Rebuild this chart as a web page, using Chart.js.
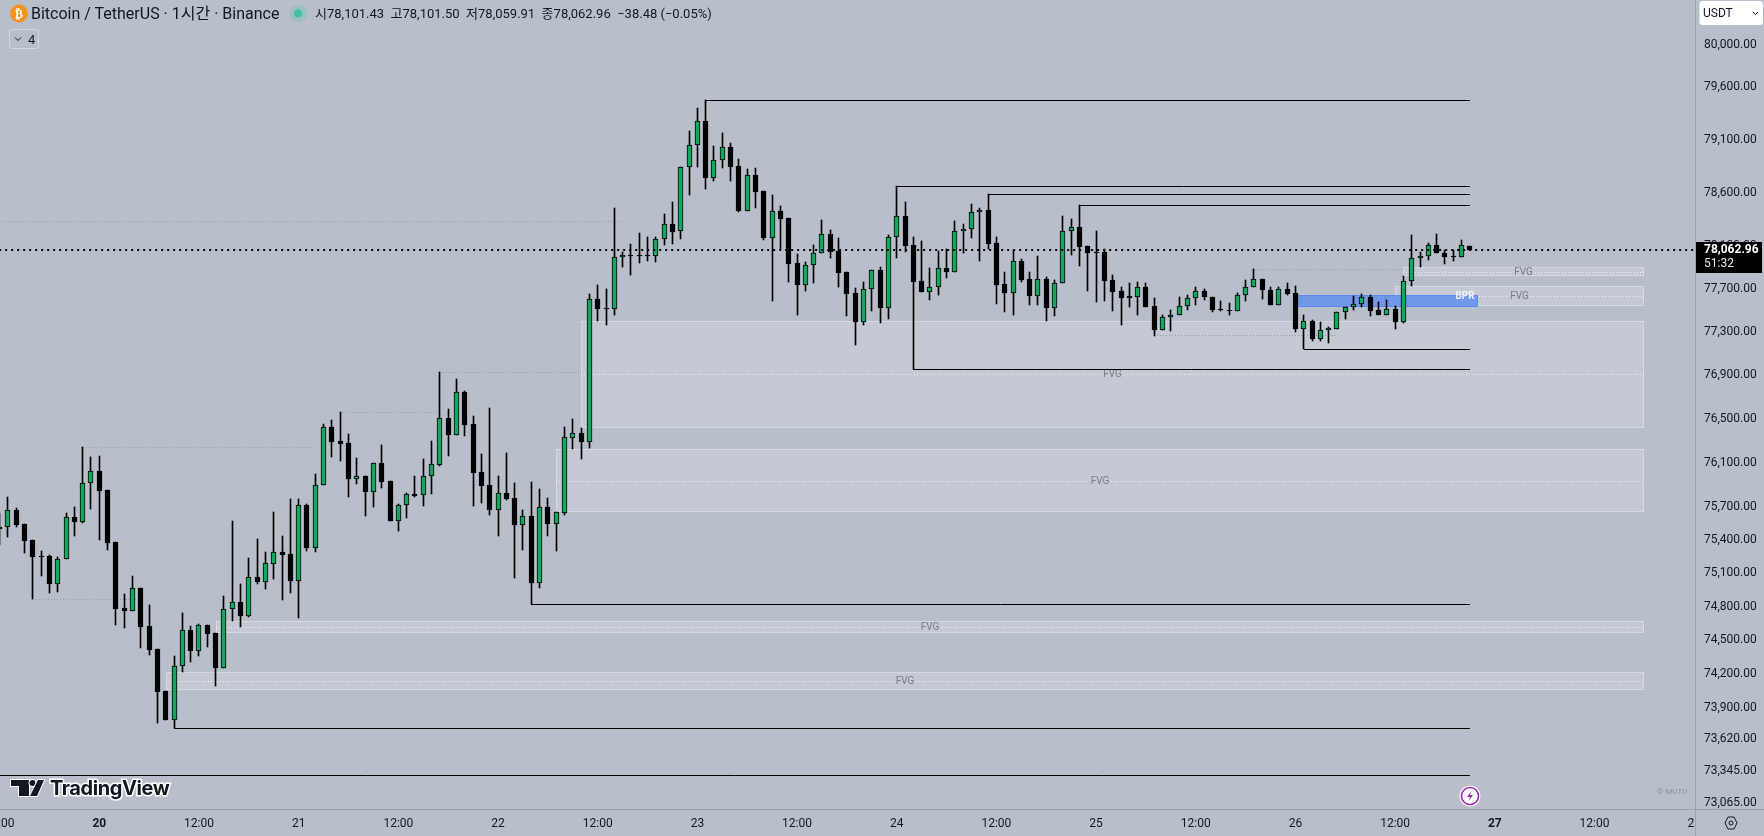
<!DOCTYPE html>
<html lang="ko"><head><meta charset="utf-8">
<style>
html,body{margin:0;padding:0;background:#b8bfca;width:1764px;height:836px;overflow:hidden}
#c{position:absolute;left:0;top:0}
.t{position:absolute;white-space:nowrap;color:#131722;font-family:Roboto,"Noto Sans CJK KR",sans-serif}
svg{position:absolute;overflow:visible}
</style></head><body>
<canvas id="c" width="1764" height="836"></canvas>
<svg style="left:0;top:0" width="1764" height="836">
<circle cx="19" cy="13.5" r="9" fill="#f7931a"/><text x="19" y="18" text-anchor="middle" font-family="Roboto" font-weight="700" font-size="12" fill="#fff">₿</text>
<circle cx="298" cy="13.5" r="9" fill="#9dbfbf"/><circle cx="298" cy="13.5" r="4" fill="#3fc0a6"/>
<rect x="9.5" y="29.5" width="29" height="19" rx="2.5" fill="none" stroke="#d3d7dd"/>
<path d="M15 37.5l3 3 3-3" fill="none" stroke="#131722"/>
<path d="M11 780h18v16h-10v-10h-8z" fill="#131722" stroke="#fff" stroke-width="2" paint-order="stroke"/>
<circle cx="32.5" cy="783" r="3" fill="#131722" stroke="#fff" stroke-width="2" paint-order="stroke"/>
<path d="M38 780h6l-7 16h-7z" fill="#131722" stroke="#fff" stroke-width="2" paint-order="stroke"/>
<text x="50" y="795" font-family="Inter" font-weight="700" font-size="20" letter-spacing="-.4" fill="#131722" stroke="#fff" stroke-width="3" paint-order="stroke">TradingView</text>
<circle cx="1470" cy="796" r="10.5" fill="#fff"/><circle cx="1470" cy="796" r="8.5" fill="none" stroke="#9c27b0" stroke-width="1.6"/>
<path d="M1471.5 791l-4.5 6h3l-1.5 4 4.5-6h-3z" fill="#9c27b0"/>
<path d="M1725 823l3-6h6l3 6-3 6h-6z" fill="none" stroke="#131722"/><circle cx="1731" cy="823" r="2" fill="none" stroke="#131722"/>
<rect x="1699.5" y="1" width="63.5" height="24" rx="3" fill="#fff"/>
<path d="M1753 12l2.5 2.5 2.5-2.5" fill="none" stroke="#131722"/>
</svg>
<div class="t" style="left:31px;top:4px;font-size:16px;line-height:19px">Bitcoin / TetherUS · 1시간 · Binance</div>
<div class="t" style="left:315px;top:5px;font-size:13px;line-height:17px">시78,101.43&nbsp; 고78,101.50&nbsp; 저78,059.91&nbsp; 종78,062.96&nbsp; −38.48 (−0.05%)</div>
<div class="t" style="left:28px;top:32px;font-size:13px;line-height:15px">4</div>
<div class="t" style="left:1703px;top:5px;font-size:12px;line-height:16px">USDT</div>
<div class="t" style="left:1657px;top:787px;font-size:8px;line-height:10px;color:#8b909a">© MUTU</div>
<script src="https://cdn.jsdelivr.net/npm/chart.js@4/dist/chart.umd.min.js"></script>
<script>
const firstHour=-12;
const opens=[75496,75514,75667,75541,75397,75255,75255,75006,75226,75604,75564,75918,
76022,75851,75379,74785,74764,74964,74624,74419,74045,73794,74273,74589,
74407,74633,74562,74255,74781,74838,74719,75064,75024,75186,75289,75271,
75033,75712,75330,75894,76423,76295,76277,75954,75976,75836,76095,75931,
75573,75712,75811,75802,75976,76082,76505,76356,76743,76450,76013,75894,
75673,75827,75775,75537,75613,75015,75694,75546,75646,76328,76368,76292,
77602,77518,77515,77994,78013,78013,78013,78003,78162,78302,78237,78838,
79046,79273,78740,78905,79028,78848,78429,78763,78611,78177,78423,78358,
77938,77738,77919,78031,78209,78050,77854,77658,77395,77700,77872,77524,
78181,78377,78106,77770,77673,77719,77891,77859,78237,78255,78414,78433,
78125,77742,77663,77956,77788,77635,77788,77524,77751,78237,78274,78097,
78043,78040,77779,77676,77628,77625,77714,77537,77321,77435,77454,77537,
77611,77676,77620,77512,77503,77496,77639,77714,77788,77686,77552,77695,
77658,77330,77398,77238,77315,77330,77481,77528,77555,77620,77500,77459,
77509,77395,77770,77985,78003,78106,78031,78006,77999,78101.43];
const highs=[75640,75785,75685,75541,75397,75298,75264,75244,75640,75694,76241,76149,
76159,75851,75379,74911,75073,74964,74812,74419,74052,74357,74740,74624,
74642,74633,74562,74892,75568,75000,75235,75406,75289,75649,75433,75766,
75766,75721,75994,76450,76487,76560,76359,76140,75976,76095,76259,75931,
75721,75820,75976,76131,76295,76928,76587,76863,76752,76523,76177,76596,
75976,76186,75912,75667,75921,75857,75775,75649,76423,76496,76414,77647,
77732,77695,78451,78040,78115,78218,78181,78181,78395,78508,78838,79179,
79396,79472,79037,79160,79065,78914,78819,78829,78611,78573,78470,78358,
78022,77947,78106,78339,78246,78171,77859,77704,77760,77872,77900,78199,
78659,78508,78181,78143,77891,78050,78069,78330,78302,78489,78451,78583,
78181,77854,78059,77975,77854,78003,77807,77779,78377,78349,78480,78097,
78237,78069,77826,77714,77751,77760,77751,77611,77454,77500,77620,77639,
77714,77695,77620,77583,77565,77658,77779,77882,77788,77714,77714,77751,
77723,77454,77408,77389,77343,77481,77528,77628,77647,77639,77574,77592,
77537,77816,78199,78043,78125,78209,78062,78062,78153,78101.5];
const lows=[75355,75429,75519,75285,74868,75078,74925,74933,75226,75438,75555,75682,
75402,75312,74639,74612,74764,74434,74371,73767,73794,73718,74219,74309,
74362,74442,74095,74255,74674,74618,74710,75006,74961,75048,74859,74925,
74701,75303,75294,75894,76155,76118,75790,75909,75619,75700,75872,75573,
75483,75601,75790,75709,75817,76073,76164,76356,76346,75709,75736,75628,
75438,75763,75060,75312,74821,74970,75438,75303,75628,76222,76134,76231,
77404,77367,77459,77906,77831,77943,77962,77953,78111,78121,78168,78579,
78844,78636,78712,78835,78712,78420,78429,78457,78158,77589,78062,77766,
77459,77682,77757,78031,77990,77719,77450,77182,77367,77496,77385,77422,
77990,78040,76955,77673,77598,77644,77803,77859,78037,78177,77962,78071,
77561,77487,77459,77766,77552,77552,77404,77450,77751,78018,77915,77682,
77579,77589,77496,77367,77533,77459,77533,77263,77321,77312,77454,77503,
77549,77598,77487,77496,77457,77496,77586,77714,77604,77552,77552,77639,
77302,77140,77219,77219,77201,77330,77422,77505,77533,77450,77459,77459,
77330,77385,77726,77903,77969,78031,77931,77959,77999,78059.91];
const closes=[75517,75667,75537,75393,75249,75249,75006,75226,75604,75564,75918,76022,
75845,75375,74781,74764,74964,74621,74416,74041,73794,74273,74589,74407,
74633,74558,74255,74781,74838,74719,75064,75024,75190,75289,75264,75033,
75712,75330,75894,76423,76292,76273,75954,75976,75836,76095,75927,75573,
75712,75811,75796,75976,76086,76505,76356,76743,76447,76009,75890,75673,
75827,75769,75537,75613,75015,75694,75546,75649,76332,76368,76292,77602,
77515,77512,77994,78013,78009,78009,78009,78162,78302,78233,78838,79046,
79273,78740,78905,79028,78844,78429,78763,78607,78177,78423,78354,77934,
77738,77919,78031,78209,78046,77850,77654,77395,77700,77872,77524,78181,
78377,78102,77766,77673,77719,77891,77859,78237,78255,78414,78433,78121,
77738,77663,77956,77785,77635,77788,77524,77751,78237,78274,78093,78037,
78037,77775,77673,77616,77616,77714,77533,77321,77435,77454,77537,77611,
77676,77620,77505,77505,77496,77639,77714,77788,77686,77552,77695,77654,
77330,77398,77238,77315,77334,77481,77528,77555,77620,77496,77459,77509,
77395,77770,77985,78003,78106,78031,77999,77999,78106,78062.96];

// price axis labels
const priceTicks=[80000,79600,79100,78600,78100,77700,77300,76900,76500,76100,75700,75400,75100,74800,74500,74200,73900,73620,73345,73065];
// time axis (hours from the 20th, 00:00)
const timeTicks=[-12,0,12,24,36,48,60,72,84,96,108,120,132,144,156,168,180,192];
const timeLabels=['12:00','20','12:00','21','12:00','22','12:00','23','12:00','24','12:00','25','12:00','26','12:00','27','12:00','28'];
const boldTimeLabels=['20','27'];

// solid swing lines
const swingStart=[73,96,107,118,98,145,52,9,-20];
const swingPrice=[79472,78659,78583,78480,76955,77140,74821,73718,73305];
const swingEnd=165;
// dotted liquidity lines
const liqStart=[-2,-8,29,41,-20,139,127];
const liqEnd=[26,5,41,58,63,157,149];
const liqPrice=[76241,74866,76560,76928,78330,77882,77263];
// FVG zones
const fvgStart=[58,55,14,8,157,156];
const fvgEnd=186;
const fvgTop=[77401,76222,74672,74217,77903,77726];
const fvgBottom=[76415,75647,74560,74054,77816,77537];
const fvgMid=[76909,75931,74615,74134,77857,77630];
const fvgLabel='FVG';
// BPR zone
const bprStart=144,bprEnd=166,bprTop=77639,bprBottom=77533,bprMid=77630,bprLabel='BPR';
const lastPrice=78062.96,countdown='51:32';

const BG='#b8bfca',UP='#13a862',DOWN='#000000',AXIS='#9ba2ae';
const hours=opens.map((_,i)=>firstHour+i);
const wicks=hours.map((x,i)=>({x,y:[lows[i],highs[i]]}));
const bodies=hours.map((x,i)=>({x,y:[Math.min(opens[i],closes[i]),Math.max(opens[i],closes[i])]}));
const candleColor=hours.map((_,i)=>closes[i]>opens[i]?UP:DOWN);
const seg=(a,b,p)=>[{x:a,y:p},{x:b,y:p}];
const datasets=[
 {type:'bar',data:bodies,order:1,barThickness:5,grouped:false,backgroundColor:candleColor,borderColor:'#000',borderWidth:1,borderSkipped:false,isCandle:true},
 {type:'bar',data:wicks,order:2,barThickness:1,grouped:false,backgroundColor:'#000',borderWidth:0,isCandle:true},
 ...swingPrice.map((p,i)=>({type:'line',data:seg(swingStart[i],swingEnd,p),order:3,borderColor:'#000',borderWidth:1,pointRadius:0,isLine:true})),
 ...liqPrice.map((p,i)=>({type:'line',data:seg(liqStart[i],liqEnd[i],p),order:4,borderColor:'#959ba6',borderWidth:1,borderDash:[1,2],pointRadius:0,isLine:true})),
 {type:'line',data:seg(-20,198,lastPrice),order:0,borderColor:'#000',borderWidth:2,borderDash:[2,4],pointRadius:0,isPrice:true}
];
const snap={id:'snap',afterDatasetsUpdate(chart){
 chart.data.datasets.forEach((d,i)=>{
  const m=chart.getDatasetMeta(i);
  if(d.isCandle){m.data.forEach(el=>{
    el.x=Math.floor(el.x)+.5;
    let a=Math.round(el.y),b=Math.round(el.base);
    if(a===b)b=a+1;
    el.y=a;el.base=b;});}
  else if(d.isLine){m.data.forEach(p=>{p.x=Math.round(p.x);p.y=Math.floor(p.y)+.5;});}
  else if(d.isPrice){m.data.forEach(p=>{p.y=Math.round(p.y);});}
 });
}};
const zones={id:'zones',beforeDatasetsDraw(chart){
 const {ctx,scales:{x,y}}=chart;
 ctx.save();
 const px=v=>Math.round(x.getPixelForValue(v)),py=v=>Math.round(y.getPixelForValue(v));
 const mid=(x0,x1,v)=>{ctx.strokeStyle='#f0f2f5';ctx.lineWidth=1;ctx.setLineDash([1,2]);ctx.beginPath();ctx.moveTo(x0,py(v)+.5);ctx.lineTo(x1,py(v)+.5);ctx.stroke();ctx.setLineDash([]);};
 fvgTop.forEach((t,i)=>{
  const x0=px(fvgStart[i]),x1=px(fvgEnd),y0=py(t),y1=py(fvgBottom[i]);
  ctx.fillStyle='#c4c9d3';ctx.fillRect(x0,y0,x1-x0,y1-y0);
  ctx.strokeStyle='#d6d9df';ctx.lineWidth=1;ctx.strokeRect(x0+.5,y0+.5,x1-x0-1,y1-y0-1);
  mid(x0,x1,fvgMid[i]);
  ctx.font='10px Roboto';ctx.textAlign='center';ctx.textBaseline='middle';
  const tx=(x0+x1)/2;const w=ctx.measureText(fvgLabel).width;
  ctx.fillStyle='#c4c9d3';ctx.fillRect(tx-w/2-1,py(fvgMid[i])-1,w+2,3);
  ctx.fillStyle='#787d88';ctx.fillText(fvgLabel,tx,py(fvgMid[i])+.5);
 });
 const bx0=px(bprStart)+1,bx1=px(bprEnd),by0=py(bprTop),by1=py(bprBottom);
 ctx.fillStyle='#7097e8';ctx.fillRect(bx0,by0,bx1-bx0,by1-by0);
 ctx.strokeStyle='#5b8bf2';ctx.lineWidth=1;ctx.strokeRect(bx0+.5,by0+.5,bx1-bx0-1,by1-by0-1);
 ctx.font='700 10px Roboto';ctx.textAlign='center';ctx.textBaseline='middle';ctx.fillStyle='#eef2fb';
 ctx.fillText(bprLabel,px(bprEnd)-13,py(bprMid)+.5);
 ctx.restore();
},
afterDraw(chart){
 const {ctx,scales:{y}}=chart;
 ctx.save();
 ctx.fillStyle=BG;ctx.fillRect(1695,810,69,26);
 ctx.fillStyle=AXIS;ctx.fillRect(1695,0,1,836);ctx.fillRect(0,809,1764,1);
 const py=Math.round(y.getPixelForValue(lastPrice));
 ctx.fillStyle='#000';ctx.fillRect(1696,py-8,66,31);
 ctx.fillStyle='#fff';ctx.font='700 12px Roboto';ctx.textAlign='left';ctx.textBaseline='middle';
 ctx.fillText(lastPrice.toLocaleString('en-US',{minimumFractionDigits:2}),1704,py);
 ctx.fillStyle='#e6e6e6';ctx.font='12px Roboto';ctx.fillText(countdown,1704,py+14);
 ctx.restore();
}};
const noPad=s=>{s.paddingLeft=s.paddingRight=s.paddingTop=s.paddingBottom=0;};
new Chart(document.getElementById('c'),{
 type:'bar',
 data:{datasets},
 plugins:[snap,zones],
 options:{
  responsive:false,animation:false,devicePixelRatio:1,
  layout:{padding:0,autoPadding:false},
  plugins:{legend:{display:false},tooltip:{enabled:false},title:{display:false}},
  scales:{
   x:{type:'linear',position:'bottom',offset:false,min:-11.955,max:192.1,
     grid:{display:false,drawTicks:false,offset:false},border:{display:false},
     afterBuildTicks(s){s.ticks=timeTicks.map(v=>({value:v}));},
     afterFit(s){s.height=27;noPad(s);},
     ticks:{autoSkip:false,maxRotation:0,padding:8,color:'#131722',
       font:c=>({family:'Roboto',size:12,weight:boldTimeLabels.includes(timeLabels[c.index])?'700':'400'}),
       callback:(v,i)=>timeLabels[i]}},
   y:{type:'logarithmic',position:'right',min:73009.2,max:80432,
     grid:{display:false,drawTicks:false},border:{display:false},
     afterBuildTicks(s){s.ticks=priceTicks.map(v=>({value:v}));},
     afterFit(s){s.width=69;noPad(s);},
     ticks:{autoSkip:false,padding:9,color:'#131722',font:{family:'Roboto',size:12},
       callback:v=>Number(v).toLocaleString('en-US',{minimumFractionDigits:2,maximumFractionDigits:2})}}
  }
 }
});
</script>
</body></html>
